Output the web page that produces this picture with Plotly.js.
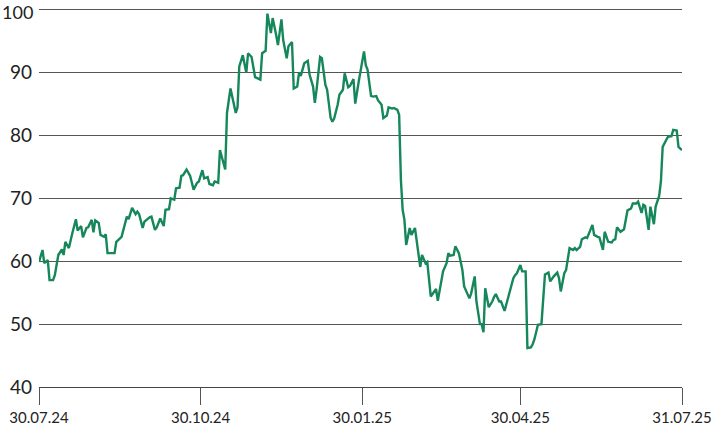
<!DOCTYPE html>
<html>
<head>
<meta charset="utf-8">
<script src="https://cdn.plot.ly/plotly-3.0.1.min.js"></script>
<style>
html,body{margin:0;padding:0;background:#fff;}
#chart{width:712px;height:430px;}
</style>
</head>
<body>
<div id="chart"></div>
<script>
const dates = [
"2024-07-30","2024-08-01","2024-08-02","2024-08-04","2024-08-05","2024-08-07","2024-08-08","2024-08-10","2024-08-12","2024-08-13",
"2024-08-14","2024-08-16","2024-08-18","2024-08-20","2024-08-21","2024-08-23","2024-08-24","2024-08-26","2024-08-27","2024-08-29",
"2024-08-30","2024-08-31","2024-09-02","2024-09-03","2024-09-05","2024-09-06","2024-09-07","2024-09-11","2024-09-12","2024-09-14",
"2024-09-15","2024-09-18","2024-09-19","2024-09-21","2024-09-23","2024-09-24","2024-09-25","2024-09-27","2024-09-28","2024-10-01",
"2024-10-02","2024-10-04","2024-10-05","2024-10-07","2024-10-09","2024-10-10","2024-10-12","2024-10-13","2024-10-15","2024-10-16",
"2024-10-18","2024-10-19","2024-10-20","2024-10-22","2024-10-24","2024-10-26","2024-10-28","2024-10-29","2024-10-31","2024-11-01",
"2024-11-03","2024-11-04","2024-11-06","2024-11-07","2024-11-09","2024-11-10","2024-11-12","2024-11-13","2024-11-14","2024-11-16",
"2024-11-19","2024-11-20","2024-11-21","2024-11-23","2024-11-25","2024-11-26","2024-11-28","2024-11-29","2024-11-30","2024-12-03",
"2024-12-04","2024-12-06","2024-12-07","2024-12-09","2024-12-10","2024-12-12","2024-12-13","2024-12-15","2024-12-16","2024-12-18",
"2024-12-19","2024-12-21","2024-12-22","2024-12-24","2024-12-25","2024-12-26","2024-12-28","2024-12-30","2024-12-31","2025-01-02",
"2025-01-03","2025-01-04","2025-01-06","2025-01-07","2025-01-09","2025-01-10","2025-01-12","2025-01-13","2025-01-14","2025-01-16",
"2025-01-17","2025-01-19","2025-01-20","2025-01-22","2025-01-23","2025-01-25","2025-01-26","2025-01-28","2025-01-29","2025-01-31",
"2025-02-01","2025-02-02","2025-02-04","2025-02-05","2025-02-07","2025-02-08","2025-02-10","2025-02-11","2025-02-13","2025-02-14",
"2025-02-16","2025-02-17","2025-02-19","2025-02-20","2025-02-21","2025-02-22","2025-02-23","2025-02-24","2025-02-26","2025-02-27",
"2025-03-01","2025-03-02","2025-03-04","2025-03-05","2025-03-07","2025-03-08","2025-03-10","2025-03-11","2025-03-13","2025-03-14",
"2025-03-16","2025-03-17","2025-03-19","2025-03-20","2025-03-21","2025-03-23","2025-03-24","2025-03-26","2025-03-28","2025-03-29",
"2025-04-01","2025-04-02","2025-04-04","2025-04-05","2025-04-07","2025-04-08","2025-04-09","2025-04-10","2025-04-12","2025-04-14",
"2025-04-15","2025-04-16","2025-04-18","2025-04-19","2025-04-21","2025-04-23","2025-04-24","2025-04-26","2025-04-27","2025-04-28",
"2025-04-30","2025-05-01","2025-05-03","2025-05-04","2025-05-06","2025-05-07","2025-05-08","2025-05-10","2025-05-12","2025-05-14",
"2025-05-16","2025-05-17","2025-05-19","2025-05-21","2025-05-22","2025-05-23","2025-05-25","2025-05-26","2025-05-28","2025-05-30",
"2025-05-31","2025-06-01","2025-06-03","2025-06-04","2025-06-06","2025-06-07","2025-06-10","2025-06-11","2025-06-13","2025-06-14",
"2025-06-16","2025-06-17","2025-06-19","2025-06-21","2025-06-22","2025-06-23","2025-06-24","2025-06-26","2025-06-28","2025-06-29",
"2025-06-30","2025-07-02","2025-07-03","2025-07-05","2025-07-06","2025-07-08","2025-07-09","2025-07-10","2025-07-12","2025-07-13",
"2025-07-15","2025-07-16","2025-07-18","2025-07-19","2025-07-20","2025-07-22","2025-07-23","2025-07-25","2025-07-26","2025-07-28",
"2025-07-29","2025-07-31"
];
const values = [
59.9,61.8,59.7,60.2,57.0,57.0,57.8,61.0,61.9,61.0,
63.1,62.1,64.5,66.7,64.9,65.6,63.8,65.3,65.4,66.6,
64.6,66.5,66.1,64.2,63.9,64.3,61.3,61.3,63.1,63.7,
63.9,67.1,66.7,68.5,67.5,67.9,67.5,65.3,66.3,67.0,
67.1,65.0,65.4,66.8,65.6,68.2,68.3,70.0,69.8,71.6,
71.7,73.6,73.7,74.6,73.6,71.4,72.5,72.7,74.5,73.2,
73.4,72.3,72.1,72.7,72.5,77.7,75.3,74.6,83.6,87.5,
83.6,84.5,91.0,92.8,90.0,93.1,92.5,91.0,89.3,88.9,
93.1,93.5,99.4,96.3,98.7,96.0,94.4,98.5,95.2,92.3,
94.2,94.9,87.5,87.8,90.0,89.5,91.5,91.9,89.7,87.8,
85.2,87.3,92.5,92.3,88.1,87.3,82.8,82.2,82.7,84.9,
86.5,87.3,89.9,87.7,87.9,89.0,85.1,88.6,90.2,93.4,
91.2,90.5,86.3,86.2,86.3,85.6,84.9,82.8,83.2,84.5,
84.3,84.4,84.1,83.3,72.9,68.2,66.6,62.6,65.3,64.2,
65.3,63.1,59.1,61.0,59.7,59.9,54.4,54.8,55.6,53.7,
57.0,58.4,59.7,61.3,60.9,61.0,62.4,61.3,58.6,56.0,
54.1,54.9,57.6,53.6,50.0,50.0,48.7,55.7,52.7,53.6,
54.3,54.8,53.6,53.6,52.1,54.1,55.4,57.3,57.8,58.1,
59.4,58.4,58.4,46.2,46.3,46.8,47.6,49.9,50.0,57.9,
58.2,56.8,57.6,58.2,57.3,55.2,58.1,58.6,62.1,61.8,
62.1,61.8,62.3,63.5,63.8,63.7,65.8,64.2,63.9,63.8,
61.8,64.7,63.1,63.0,63.4,63.5,65.4,64.7,65.1,66.6,
68.1,68.4,69.2,69.2,69.5,67.7,69.0,68.8,65.0,68.7,
65.9,68.7,70.4,72.7,78.2,79.3,79.8,79.9,80.9,80.8,
78.2,77.7
];
const tickDates = ["2024-07-30","2024-10-30","2025-01-30","2025-04-30","2025-07-31"];
const tickLabels = ["30.07.24","30.10.24","30.01.25","30.04.25","31.07.25"];
const yTicks = [40,50,60,70,80,90,100];
const yTickLabels = ["40","50","60","70","80","90","100"];

const trace = {
  x: dates, y: values, type: "scatter", mode: "lines",
  line: {color: "#15875a", width: 2.4}, hoverinfo: "skip", cliponaxis: false
};
const topIdx = yTicks.length - 1;
const layout = {
  width: 712, height: 430,
  margin: {l: 39, r: 30, t: 8, b: 43, pad: 0},
  paper_bgcolor: "#fff", plot_bgcolor: "#fff",
  showlegend: false,
  font: {family: "Lato, 'Open Sans', sans-serif", color: "#222"},
  xaxis: {
    type: "date", range: ["2024-07-30","2025-07-31"],
    tickmode: "array", tickvals: tickDates, ticktext: tickLabels,
    ticks: "outside", ticklen: 17, tickwidth: 1, tickcolor: "#555",
    showgrid: false, zeroline: false,
    showline: true, linecolor: "#444", linewidth: 1,
    tickfont: {size: 15, color: "#222"}, fixedrange: true
  },
  yaxis: {
    range: [40, 100.3], tickmode: "array", tickvals: yTicks,
    ticktext: yTickLabels.map((t, i) => i === topIdx ? "" : t),
    showgrid: true, gridcolor: "#555", gridwidth: 1,
    zeroline: false, showline: false, ticks: "",
    ticklabelstandoff: 6,
    tickfont: {size: 19, color: "#222"}, fixedrange: true
  },
  annotations: [{
    xref: "paper", yref: "y", x: 0, y: yTicks[topIdx],
    xanchor: "right", yanchor: "middle", xshift: -4, yshift: -2,
    text: yTickLabels[topIdx], showarrow: false,
    font: {size: 18, color: "#222", family: "Lato, 'Open Sans', sans-serif"}
  }]
};
Plotly.newPlot("chart", [trace], layout, {displayModeBar: false, staticPlot: true});
</script>
</body>
</html>
